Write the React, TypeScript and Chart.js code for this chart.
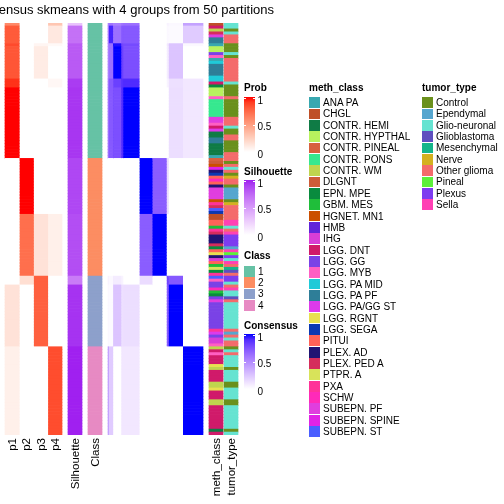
import React, { useEffect, useRef } from "react";
import { Chart, registerables } from "chart.js";

Chart.register(...registerables);

// ---------------- data ----------------
// sample segments (consecutive samples sharing the same probabilities / consensus pattern)
const SEG_SIZE = [1, 6, 1, 11, 3, 24, 19, 21, 3, 21, 30];
const SEG_CLASS = [1, 1, 1, 1, 1, 1, 2, 2, 3, 3, 4];
const PROB_P1 = [0.6, 0.8, 0.86, 0.82, 0.93, 1, 0, 0, 0, 0.15, 0.08];
const PROB_P2 = [0, 0, 0, 0, 0, 0, 1, 0.72, 0.17, 0, 0];
const PROB_P3 = [0, 0, 0.05, 0.1, 0, 0, 0, 0.15, 0.78, 0.78, 0];
const PROB_P4 = [0.3, 0.12, 0.03, 0, 0.04, 0, 0, 0.08, 0, 0, 0.85];
const SILHOUETTE = [0.3, 0.7, 0.8, 0.8, 0.92, 0.94, 0.88, 0.85, 0.65, 0.95, 1];
// consensus between segments (row segment x column segment)
const CONSENSUS = [
  [0.55, 0.6, 0.55, 0.55, 0.6, 0.62, 0, 0, 0.05, 0.03, 0.4],
  [0.6, 0.92, 0.62, 0.62, 0.72, 0.72, 0, 0, 0.03, 0.02, 0.22],
  [0.55, 0.62, 1, 0.98, 0.8, 0.78, 0, 0, 0.1, 0.25, 0.03],
  [0.55, 0.62, 0.98, 1, 0.82, 0.76, 0, 0, 0.08, 0.25, 0],
  [0.6, 0.72, 0.8, 0.82, 0.88, 0.9, 0, 0, 0.05, 0.13, 0.1],
  [0.62, 0.72, 0.78, 0.76, 0.9, 1, 0, 0, 0, 0.14, 0.1],
  [0, 0, 0, 0, 0, 0, 1, 0.7, 0.15, 0, 0],
  [0, 0, 0, 0, 0, 0, 0.7, 1, 0, 0, 0],
  [0.05, 0.03, 0.1, 0.08, 0.05, 0, 0.15, 0, 0.8, 0.72, 0],
  [0.03, 0.02, 0.25, 0.25, 0.13, 0.14, 0, 0, 0.72, 1, 0],
  [0.4, 0.22, 0.03, 0, 0.1, 0.1, 0, 0, 0, 0, 1],
];

const METH_RUNS: [string, number][] = [
  ["CHGL", 1], ["LGG. DNT", 1], ["CONTR. WM", 1], ["PLEX. PED A", 1], ["SUBEPN. PF", 1],
  ["LGG. PA PF", 2], ["ANA PA", 1], ["CONTR. HYPTHAL", 2], ["LGG. GG", 1], ["LGG. MYB", 1],
  ["ANA PA", 1], ["LGG. PA MID", 1], ["LGG. PA PF", 4], ["LGG. PA MID", 2], ["LGG. DNT", 1],
  ["EPN. MPE", 1], ["CONTR. HYPTHAL", 3], ["LGG. MYB", 1], ["CONTR. PONS", 6], ["SUBEPN. PF", 2],
  ["LGG. MYB", 1], ["LGG. DNT", 1], ["LGG. PA/GG ST", 1], ["CONTR. HEMI", 2], ["LGG. PA PF", 2],
  ["CONTR. HEMI", 4], ["ANA PA", 1],
  ["CONTR. PINEAL", 1], ["DLGNT", 1], ["HGNET. MN1", 1], ["SUBEPN. SPINE", 1], ["PLEX. AD", 1],
  ["LGG. SEGA", 1], ["PITUI", 1], ["SCHW", 1], ["PITUI", 1], ["PLEX. AD", 1], ["SUBEPN. PF", 4],
  ["HGNET. MN1", 1], ["PXA", 1], ["PLEX. PED A", 1], ["SUBEPN. ST", 1], ["LGG. SEGA", 1],
  ["CHGL", 2], ["PITUI", 2], ["GBM. MES", 1], ["PXA", 1], ["PLEX. PED A", 1], ["PLEX. AD", 3],
  ["PLEX. PED A", 1], ["EPN. MPE", 1], ["PITUI", 1], ["LGG. RGNT", 1], ["PLEX. AD", 1], ["IHG", 1],
  ["PITUI", 1], ["GBM. MES", 1], ["PTPR. A", 1], ["EPN. MPE", 1], ["PXA", 1],
  ["SUBEPN. ST", 1], ["LGG. MYB", 1], ["LGG. GG", 2], ["SCHW", 1], ["GBM. MES", 1], ["EPN. MPE", 1],
  ["LGG. GG", 1], ["SUBEPN. PF", 1], ["LGG. GG", 9], ["PXA", 1], ["LGG. PA/GG ST", 1], ["LGG. GG", 1],
  ["IHG", 2], ["LGG. MYB", 1],
  ["CONTR. WM", 1], ["LGG. DNT", 1], ["LGG. MYB", 1], ["LGG. DNT", 3], ["LGG. RGNT", 1],
  ["CONTR. WM", 1], ["LGG. DNT", 4], ["CONTR. WM", 2], ["LGG. RGNT", 1], ["LGG. DNT", 3],
  ["CONTR. WM", 2], ["LGG. DNT", 8], ["CONTR. HEMI", 1], ["LGG. DNT", 1],
];

const TUMOR_RUNS: [string, number][] = [
  ["Glio-neuronal", 2], ["Control", 1], ["Glio-neuronal", 1], ["Other glioma", 3], ["Control", 3],
  ["Glio-neuronal", 1], ["Control", 1], ["Other glioma", 8], ["Glio-neuronal", 1], ["Control", 4],
  ["Other glioma", 1], ["Control", 6], ["Other glioma", 3], ["Glio-neuronal", 1], ["Control", 2],
  ["Other glioma", 2], ["Control", 4], ["Other glioma", 2],
  ["Other glioma", 1], ["Control", 1], ["Other glioma", 1], ["Glio-neuronal", 1], ["Other glioma", 1],
  ["Control", 1], ["Nerve", 1], ["Other glioma", 2], ["Control", 1], ["Ependymal", 4], ["Control", 1],
  ["Nerve", 1], ["Other glioma", 5], ["Sella", 2], ["Glio-neuronal", 1], ["Other glioma", 1],
  ["Sella", 1], ["Plexus", 4], ["Ependymal", 1], ["Sella", 1], ["Pineal", 1], ["Plexus", 1],
  ["Glio-neuronal", 1], ["Sella", 1], ["Other glioma", 1], ["Mesenchymal", 1], ["Glioblastoma", 1],
  ["Other glioma", 1],
  ["Plexus", 2], ["Glio-neuronal", 1], ["Other glioma", 1], ["Sella", 1], ["Glio-neuronal", 2],
  ["Glioblastoma", 1], ["Other glioma", 1], ["Glio-neuronal", 9], ["Other glioma", 1],
  ["Ependymal", 1], ["Other glioma", 1], ["Glio-neuronal", 1], ["Other glioma", 2],
  ["Control", 1], ["Glio-neuronal", 1], ["Other glioma", 1], ["Glio-neuronal", 4], ["Control", 1],
  ["Glio-neuronal", 4], ["Control", 2], ["Glio-neuronal", 4], ["Control", 2], ["Glio-neuronal", 8],
  ["Control", 1], ["Glio-neuronal", 1],
];

const METH_CLASSES = [
  "ANA PA", "CHGL", "CONTR. HEMI", "CONTR. HYPTHAL", "CONTR. PINEAL", "CONTR. PONS", "CONTR. WM",
  "DLGNT", "EPN. MPE", "GBM. MES", "HGNET. MN1", "HMB", "IHG", "LGG. DNT", "LGG. GG", "LGG. MYB",
  "LGG. PA MID", "LGG. PA PF", "LGG. PA/GG ST", "LGG. RGNT", "LGG. SEGA", "PITUI", "PLEX. AD",
  "PLEX. PED A", "PTPR. A", "PXA", "SCHW", "SUBEPN. PF", "SUBEPN. SPINE", "SUBEPN. ST",
];
const METH_COLORS = [
  "#38A8B0", "#BF4F28", "#0F7B45", "#B8F25E", "#D7613F", "#36E88F", "#BFD54E",
  "#CD5C38", "#098B3E", "#1FBE3A", "#CB4F00", "#6124D9", "#D83ED6", "#D01A6A", "#7A42E6", "#FF5FC3",
  "#20CAD8", "#2E7E98", "#DD3BEB", "#E8E050", "#0C38B2", "#FF6358", "#201473",
  "#D52D5C", "#D8E35A", "#FF3399", "#FF2AB9", "#E03EDE", "#E023E6", "#4A5EFF",
];
const TUMOR_TYPES = [
  "Control", "Ependymal", "Glio-neuronal", "Glioblastoma", "Mesenchymal", "Nerve",
  "Other glioma", "Pineal", "Plexus", "Sella",
];
const TUMOR_COLORS = [
  "#6A901C", "#56A6CF", "#66E3D1", "#5E4FBF", "#14B58A", "#D4B11F",
  "#F46B6B", "#5CF03A", "#7D3CF0", "#FF40B4",
];
const CLASS_LABELS = ["1", "2", "3", "4"];
const CLASS_COLORS = ["#66C2A5", "#FC8D62", "#8DA0CB", "#E78AC3"];
const LEGEND_BREAKS = ["1", "0.5", "0"];
const TITLE = "Consensus skmeans with 4 groups from 50 partitions";

// ---------------- colour helpers (LAB interpolation) ----------------
function hexToRgb(hex: string): number[] {
  const n = parseInt(hex.slice(1), 16);
  return [(n >> 16) & 255, (n >> 8) & 255, n & 255];
}
const toLin = (c: number) => {
  c /= 255;
  return c <= 0.04045 ? c / 12.92 : Math.pow((c + 0.055) / 1.055, 2.4);
};
const fromLin = (c: number) => {
  const v = c <= 0.0031308 ? 12.92 * c : 1.055 * Math.pow(Math.max(c, 0), 1 / 2.4) - 0.055;
  return Math.round(Math.max(0, Math.min(1, v)) * 255);
};
const XN = 0.95047, YN = 1, ZN = 1.08883;
function rgbToLab(rgb: number[]): number[] {
  const [r, g, b] = rgb.map(toLin);
  const x = (0.4124564 * r + 0.3575761 * g + 0.1804375 * b) / XN;
  const y = (0.2126729 * r + 0.7151522 * g + 0.072175 * b) / YN;
  const z = (0.0193339 * r + 0.119192 * g + 0.9503041 * b) / ZN;
  const f = (t: number) => (t > 0.008856 ? Math.cbrt(t) : 7.787 * t + 16 / 116);
  const fx = f(x), fy = f(y), fz = f(z);
  return [116 * fy - 16, 500 * (fx - fy), 200 * (fy - fz)];
}
function labToRgb(lab: number[]): string {
  const [L, a, b] = lab;
  const fy = (L + 16) / 116, fx = fy + a / 500, fz = fy - b / 200;
  const inv = (t: number) => (t * t * t > 0.008856 ? t * t * t : (t - 16 / 116) / 7.787);
  const x = inv(fx) * XN, y = inv(fy) * YN, z = inv(fz) * ZN;
  const r = 3.2404542 * x - 1.5371385 * y - 0.4985314 * z;
  const g = -0.969266 * x + 1.8760108 * y + 0.041556 * z;
  const bb = 0.0556434 * x - 0.2040259 * y + 1.0572252 * z;
  return `rgb(${fromLin(r)},${fromLin(g)},${fromLin(bb)})`;
}
function makeRamp(c0: string, c1: string) {
  const l0 = rgbToLab(hexToRgb(c0));
  const l1 = rgbToLab(hexToRgb(c1));
  return (t: number) => {
    const u = Math.max(0, Math.min(1, t));
    return labToRgb(l0.map((v, i) => v + (l1[i] - v) * u));
  };
}
const probRamp = makeRamp("#FFFFFF", "#FF0000");
const silRamp = makeRamp("#FFFFFF", "#A020F0");
const conRamp = makeRamp("#FFFFFF", "#0000FF");

// ---------------- layout (page px) ----------------
const HM_TOP = 23;
const HM_BOTTOM = 435;
const COL_P: [number, number] = [5, 62];
const COL_SIL: [number, number] = [68, 82];
const COL_CLASS: [number, number] = [88, 102];
const COL_CM: [number, number] = [108, 203];
const COL_METH: [number, number] = [209, 223];
const COL_TUMOR: [number, number] = [224, 238];
const FONT = '"Liberation Sans", Arial, Helvetica, sans-serif';

function expandRuns(runs: [string, number][]): string[] {
  const out: string[] = [];
  runs.forEach(([v, n]) => {
    for (let i = 0; i < n; i++) out.push(v);
  });
  return out;
}

function buildConfig(): any {
  const segOf: number[] = [];
  const segStart: number[] = [];
  let acc = 0;
  SEG_SIZE.forEach((n, s) => {
    segStart.push(acc);
    acc += n;
    for (let i = 0; i < n; i++) segOf.push(s);
  });
  const N = acc;
  const labels = segOf.map((_, i) => String(i + 1));
  const datasets: any[] = [];
  const mk = (x0: number, x1: number, colors: string[]) => ({
    data: colors.map(() => [x0, x1]),
    backgroundColor: colors,
    borderWidth: 0,
    grouped: false,
    barPercentage: 1,
    categoryPercentage: 1,
  });
  const probs = [PROB_P1, PROB_P2, PROB_P3, PROB_P4];
  const pw = (COL_P[1] - COL_P[0]) / probs.length;
  probs.forEach((arr, c) => {
    datasets.push(mk(COL_P[0] + c * pw, COL_P[0] + (c + 1) * pw, segOf.map((s) => probRamp(arr[s]))));
  });
  datasets.push(mk(COL_SIL[0], COL_SIL[1], segOf.map((s) => silRamp(SILHOUETTE[s]))));
  datasets.push(mk(COL_CLASS[0], COL_CLASS[1], segOf.map((s) => CLASS_COLORS[SEG_CLASS[s] - 1])));
  const cw = (COL_CM[1] - COL_CM[0]) / N;
  SEG_SIZE.forEach((n, j) => {
    const x0 = COL_CM[0] + segStart[j] * cw;
    const x1 = COL_CM[0] + (segStart[j] + n) * cw;
    datasets.push(mk(x0, x1, segOf.map((s) => conRamp(CONSENSUS[s][j]))));
  });
  const meth = expandRuns(METH_RUNS);
  datasets.push(mk(COL_METH[0], COL_METH[1], meth.map((m) => METH_COLORS[METH_CLASSES.indexOf(m)])));
  const tumor = expandRuns(TUMOR_RUNS);
  datasets.push(mk(COL_TUMOR[0], COL_TUMOR[1], tumor.map((t) => TUMOR_COLORS[TUMOR_TYPES.indexOf(t)])));

  return {
    type: "bar",
    data: { labels, datasets },
    options: {
      indexAxis: "y",
      animation: false,
      responsive: false,
      devicePixelRatio: 1,
      layout: { padding: { top: HM_TOP, bottom: 504 - HM_BOTTOM, left: 0, right: 0 } },
      scales: {
        x: { type: "linear", min: 0, max: 504, display: false },
        y: { type: "category", display: false },
      },
      plugins: { legend: { display: false }, tooltip: { enabled: false }, title: { display: false } },
    },
  };
}

// ---------------- text helpers ----------------
function Txt(props: { x: number; baseline: number; size: number; bold?: boolean; text: string; align?: "left" | "right" }) {
  const { x, baseline, size, bold, text, align } = props;
  const top = baseline - 0.8465 * size;
  const style: any = {
    position: "absolute",
    top,
    fontSize: size,
    lineHeight: `${size}px`,
    fontWeight: bold ? 700 : 400,
    whiteSpace: "nowrap",
    color: "#000",
  };
  if (align === "right") style.right = 504 - x;
  else style.left = x;
  return <div style={style}>{text}</div>;
}

function GradientLegend(props: { title: string; titleBaseline: number; top: number; bottom: number; ramp: (t: number) => string }) {
  const { title, titleBaseline, top, bottom, ramp } = props;
  const stops: string[] = [];
  for (let i = 0; i <= 10; i++) stops.push(`${ramp(i / 10)} ${i * 10}%`);
  const mid = (top + bottom) / 2;
  const ys = [top, mid, bottom];
  const offs = [7, 6.3, 6];
  return (
    <>
      <Txt x={244} baseline={titleBaseline} size={10} bold text={title} />
      <div
        style={{
          position: "absolute",
          left: 243.5,
          top,
          width: 11.5,
          height: bottom - top,
          background: `linear-gradient(to top, ${stops.join(",")})`,
        }}
      />
      {ys.slice(0, 2).map((y, i) => (
        <React.Fragment key={i}>
          <div style={{ position: "absolute", left: 243.5, top: y + (i === 0 ? 1 : 0), width: 2.5, height: 1, background: "#fff" }} />
          <div style={{ position: "absolute", left: 252.5, top: y + (i === 0 ? 1 : 0), width: 2.5, height: 1, background: "#fff" }} />
        </React.Fragment>
      ))}
      {LEGEND_BREAKS.map((b, i) => (
        <Txt key={b} x={257.5} baseline={ys[i] + offs[i]} size={10} text={b} />
      ))}
    </>
  );
}

function DiscreteLegend(props: { title: string; x: number; titleBaseline: number; top: number; labels: string[]; colors: string[] }) {
  const { title, x, titleBaseline, top, labels, colors } = props;
  const step = 11.34;
  return (
    <>
      <Txt x={x} baseline={titleBaseline} size={10} bold text={title} />
      {labels.map((l, i) => (
        <React.Fragment key={l}>
          <div
            style={{
              position: "absolute",
              left: x,
              top: top + i * step,
              width: 11,
              height: step - 0.6,
              background: colors[i],
            }}
          />
          <Txt x={x + 14} baseline={top + i * step + step / 2 + 3.6} size={10} text={l} />
        </React.Fragment>
      ))}
    </>
  );
}

export default function App() {
  const ref = useRef<HTMLCanvasElement>(null);
  useEffect(() => {
    if (!ref.current) return;
    const chart = new Chart(ref.current, buildConfig());
    return () => chart.destroy();
  }, []);

  const pw = (COL_P[1] - COL_P[0]) / 4;
  const colLabels: [string, number][] = [
    ["p1", COL_P[0] + pw * 0.5],
    ["p2", COL_P[0] + pw * 1.5],
    ["p3", COL_P[0] + pw * 2.5],
    ["p4", COL_P[0] + pw * 3.5],
    ["Silhouette", (COL_SIL[0] + COL_SIL[1]) / 2],
    ["Class", (COL_CLASS[0] + COL_CLASS[1]) / 2],
    ["meth_class", (COL_METH[0] + COL_METH[1]) / 2],
    ["tumor_type", (COL_TUMOR[0] + COL_TUMOR[1]) / 2],
  ];

  return (
    <div
      style={{
        position: "absolute",
        left: 0,
        top: 0,
        width: 504,
        height: 504,
        background: "#fff",
        overflow: "hidden",
        fontFamily: FONT,
      }}
    >
      <canvas ref={ref} width={504} height={504} style={{ position: "absolute", left: 0, top: 0, width: 504, height: 504 }} />
      <Txt x={274} baseline={14} size={13} text={TITLE} align="right" />
      {colLabels.map(([t, cx]) => (
        <div
          key={t}
          style={{
            position: "absolute",
            left: cx - 6,
            top: 438,
            width: 12,
            writingMode: "vertical-rl",
            transform: "rotate(180deg)",
            fontSize: 11.5,
            lineHeight: "12px",
            whiteSpace: "nowrap",
            color: "#000",
          }}
        >
          {t}
        </div>
      ))}
      <GradientLegend title="Prob" titleBaseline={91.5} top={97} bottom={152} ramp={probRamp} />
      <GradientLegend title="Silhouette" titleBaseline={175.5} top={180} bottom={235} ramp={silRamp} />
      <DiscreteLegend title="Class" x={244} titleBaseline={259.5} top={266} labels={CLASS_LABELS} colors={CLASS_COLORS} />
      <GradientLegend title="Consensus" titleBaseline={329.5} top={334} bottom={389} ramp={conRamp} />
      <DiscreteLegend title="meth_class" x={309} titleBaseline={91.5} top={97.3} labels={METH_CLASSES} colors={METH_COLORS} />
      <DiscreteLegend title="tumor_type" x={422} titleBaseline={91.5} top={97.3} labels={TUMOR_TYPES} colors={TUMOR_COLORS} />
    </div>
  );
}
